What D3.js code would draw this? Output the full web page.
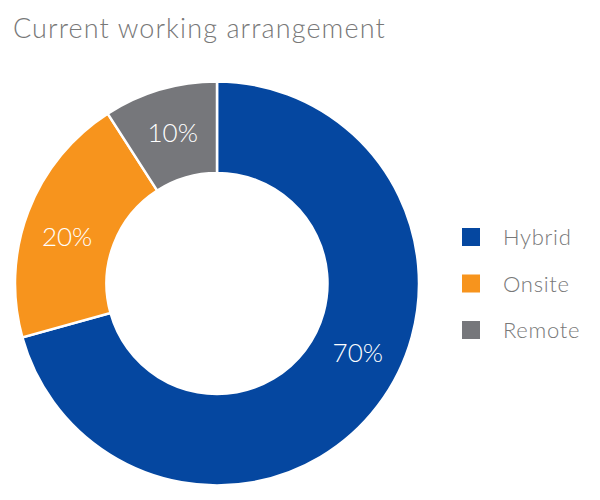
<!DOCTYPE html>
<html>
<head>
<meta charset="utf-8">
<script src="https://cdn.jsdelivr.net/npm/d3@7"></script>
<style>
  body { margin: 0; background: #fff; }
  text { font-family: Lato, "Open Sans", sans-serif; }
</style>
</head>
<body>
<div id="chart"></div>
<script>
const categories = ["Hybrid", "Onsite", "Remote"];
const shares = [70.7, 20.2, 9.1];
const shareLabels = ["70%", "20%", "10%"];
const colors = ["#0547a0", "#f7941d", "#76777b"];

const width = 600, height = 500;
const cx = 217, cy = 283.5;
const outerR = 202, innerR = 110.5;
const labelR = 157;

const svg = d3.select("#chart").append("svg")
    .attr("width", width)
    .attr("height", height);

svg.append("text")
    .attr("x", 13)
    .attr("y", 38)
    .attr("fill", "#787878")
    .attr("font-size", 27)
    .attr("font-weight", 300)
    .attr("letter-spacing", 1.1)
    .text("Current working arrangement");

const data = categories.map((c, i) => ({ cat: c, value: shares[i], label: shareLabels[i], color: colors[i] }));

const pie = d3.pie().value(d => d.value).sort(null);
const arc = d3.arc().innerRadius(innerR).outerRadius(outerR);

// labels are nudged off the exact mid angle, as in the original
const labelShift = { Hybrid: -11, Onsite: -3.5 };
const labelAngle = d => (d.startAngle + d.endAngle) / 2 + (labelShift[d.data.cat] || 0) * Math.PI / 180;

const arcs = pie(data);

const slices = svg.append("g").attr("transform", `translate(${cx},${cy})`);
slices.selectAll("path")
    .data(arcs)
    .join("path")
    .attr("d", arc)
    .attr("fill", d => d.data.color)
    .attr("stroke", "#fff")
    .attr("stroke-width", 2.5);

const labels = svg.append("g").attr("transform", `translate(${cx},${cy})`);
labels.selectAll("text")
    .data(arcs)
    .join("text")
    .attr("x", d => labelR * Math.sin(labelAngle(d)))
    .attr("y", d => -labelR * Math.cos(labelAngle(d)) + 9.5)
    .attr("text-anchor", "middle")
    .attr("fill", "#fff")
    .attr("font-size", 26)
    .attr("font-weight", 300)
    .text(d => d.data.label);

const legend = svg.append("g")
    .attr("transform", "translate(462,228)")
    .selectAll("g")
    .data(data)
    .join("g")
    .attr("transform", (d, i) => `translate(0,${i * 46.5})`);

legend.append("rect")
    .attr("width", 18)
    .attr("height", 18)
    .attr("fill", d => d.color);

legend.append("text")
    .attr("x", 41)
    .attr("y", 17)
    .attr("fill", "#787878")
    .attr("font-size", 22)
    .attr("font-weight", 300)
    .attr("letter-spacing", 0.7)
    .text(d => d.cat);
</script>
</body>
</html>
